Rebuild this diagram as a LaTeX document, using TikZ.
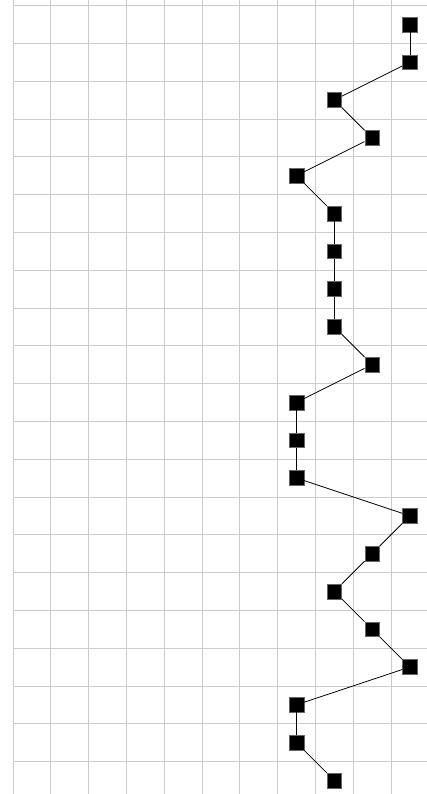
\documentclass[tikz,border=0pt]{standalone}
\begin{document}
\begin{tikzpicture}[x=1cm,y=1cm,
  gridline/.style={draw=black!20, line width=0.6pt},
  marker/.style={draw=black!60, fill=black, minimum size=0.39cm, inner sep=0pt, line width=0.3pt},
  link/.style={draw=black, line width=0.6pt}]
\useasboundingbox (0,0) rectangle (11.296,-21.005);
\foreach \k in {0,...,10} \draw[gridline] (0.344+\k,0) -- (0.344+\k,-21.005);
\foreach \k in {0,...,20} \draw[gridline] (0.344,-0.1455-\k) -- (11.296,-0.1455-\k);
\foreach \c [count=\r from 0] in {10,10,8,9,7,8,8,8,8,9,7,7,7,10,9,8,9,10,7,7,8}
  \node[marker] (s\r) at (0.844+\c,-0.6455-\r) {};
\foreach \r [remember=\r as \p (initially 0)] in {1,...,20} \draw[link] (s\p) -- (s\r);
\end{tikzpicture}
\end{document}
